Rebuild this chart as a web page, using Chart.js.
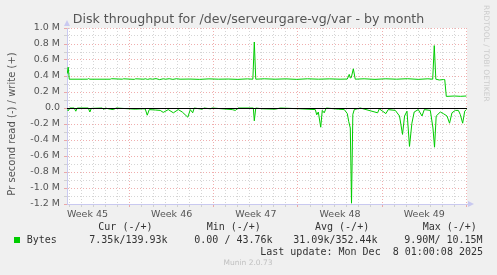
<!DOCTYPE html>
<html>
<head>
<meta charset="utf-8">
<script src="https://cdn.jsdelivr.net/npm/chart.js@4.4.1/dist/chart.umd.min.js"></script>
<style>
  html, body { margin: 0; padding: 0; background: #f0f0f0; }
  canvas { display: block; }
</style>
</head>
<body>
<canvas id="disk-chart" width="497" height="275"></canvas>
<script>
// x = days since monday of week 46, y = bytes per second
const weekLabels = ['Week 45', 'Week 46', 'Week 47', 'Week 48', 'Week 49'];
const weekCenters = [-3.5, 3.5, 10.5, 17.5, 24.5];

// write (+)
const writeDays = [-5.18, -5.10, -5.01, -3.5, -3.4, -3.3, -1.6, -1.5, -0.6, -0.5, 0.4, 0.5,
  1.2, 1.3, 1.5, 1.7, 1.9, 2.2, 2.5, 2.8, 3.0, 3.3, 3.6, 3.9, 4.2, 5.0, 5.8, 6.6, 7.4, 8.2,
  9.0, 9.8, 10.25, 10.37, 10.49, 11.2, 12.1, 13.0, 13.9, 14.8, 15.7, 16.6, 17.5, 18.1, 18.26,
  18.35, 18.43, 18.6, 18.76, 19.5, 20.4, 21.3, 22.2, 23.1, 24.0, 24.8, 25.2, 25.33, 25.46,
  25.75, 26.1, 26.2, 26.33, 27.0, 27.5, 28.0];
const writeBytes = [430000, 510000, 360000, 360000, 368000, 360000, 360000, 366000, 360000, 365000, 358000, 365000,
  360000, 366000, 358000, 365000, 360000, 367000, 355000, 365000, 360000, 366000, 358000, 366000, 360000, 362000, 358000, 364000, 360000, 362000,
  358000, 364000, 360000, 825000, 360000, 365000, 360000, 364000, 358000, 365000, 360000, 364000, 360000, 362000, 420000,
  375000, 380000, 490000, 360000, 365000, 358000, 365000, 360000, 366000, 358000, 365000, 360000, 780000, 360000,
  350000, 356000, 355000, 145000, 150000, 146000, 150000];

// read (-), stored as magnitudes
const readDays = [-5.18, -5.10, -4.97, -4.60, -4.47, -4.35, -3.43, -3.30, -3.18, -2.27, -2.14, -2.02,
  -1.60, -1.35, -1.11, 0.47, 1.05, 1.30, 1.47, 1.64, 2.14, 2.55, 2.80, 3.22, 3.64, 4.05, 4.38,
  4.84, 5.05, 5.25, 5.37, 6.04, 6.20, 6.71, 6.88, 8.54, 8.79, 9.04, 10.29, 10.37, 10.49, 11.03,
  12.11, 12.53, 14.19, 15.44, 15.56, 15.69, 15.89, 16.02, 16.18, 16.35, 17.35, 17.85, 18.10,
  18.22, 18.35, 18.45, 18.56, 18.68, 19.18, 20.62, 20.76, 21.31, 21.50, 22.09, 22.44, 22.69,
  22.86, 23.06, 23.27, 23.47, 23.66, 24.00, 24.31, 24.50, 25.00, 25.22, 25.35, 25.49, 25.83,
  26.08, 26.39, 26.60, 26.80, 27.08, 27.33, 27.49, 27.69, 27.86, 27.99];
const readBytes = [20000, 35000, 0, 0, 40000, 0, 0, 50000, 5000, 0, 20000, 0,
  15000, 20000, 0, 15000, 10000, 10000, 90000, 20000, 25000, 30000, 55000, 20000, 60000, 20000, 50000,
  115000, 20000, 60000, 0, 15000, 0, 10000, 0, 20000, 30000, 0, 0, 160000, 0, 10000,
  15000, 0, 10000, 20000, 85000, 50000, 240000, 30000, 60000, 0, 15000, 20000, 70000,
  170000, 250000, 1190000, 80000, 20000, 0, 60000, 10000, 70000, 20000, 30000, 100000, 330000,
  100000, 40000, 480000, 190000, 50000, 20000, 100000, 20000, 30000, 250000, 490000, 100000, 50000,
  70000, 100000, 190000, 60000, 30000, 30000, 80000, 190000, 40000, 20000];

const X_MIN = -5.2, X_MAX = 28.05;
const GREEN = '#00cc00';
const MAJOR = 'rgba(230, 120, 120, 0.6)';
const MINOR = 'rgba(190, 190, 190, 0.65)';
const AXIS = '#c9c9f0';

const munin = {
  id: 'munin',
  beforeDraw(chart) {
    const { ctx, chartArea: a } = chart;
    ctx.save();
    ctx.fillStyle = '#f0f0f0';
    ctx.fillRect(0, 0, chart.width, chart.height);
    ctx.fillStyle = '#ffffff';
    ctx.fillRect(a.left, a.top, a.right - a.left, a.bottom - a.top);
    ctx.restore();
  },
  afterDatasetsDraw(chart) {
    // black zero rule, snapped to a pixel row
    const { ctx, chartArea: a } = chart;
    const y0 = Math.floor(chart.scales.y.getPixelForValue(0)) + 0.5;
    ctx.save();
    ctx.strokeStyle = '#000';
    ctx.lineWidth = 1;
    ctx.beginPath();
    ctx.moveTo(a.left, y0);
    ctx.lineTo(a.right, y0);
    ctx.stroke();
    ctx.restore();
  },
  afterDraw(chart) {
    const { ctx, chartArea: a } = chart;
    ctx.save();
    // axis arrows
    ctx.fillStyle = AXIS;
    ctx.beginPath();
    ctx.moveTo(a.left - 3, a.top - 2); ctx.lineTo(a.left + 3, a.top - 2); ctx.lineTo(a.left, a.top - 8);
    ctx.fill();
    ctx.beginPath();
    ctx.moveTo(a.right + 1, a.bottom - 3); ctx.lineTo(a.right + 1, a.bottom + 3); ctx.lineTo(a.right + 7, a.bottom);
    ctx.fill();

    // title
    ctx.fillStyle = '#555';
    ctx.font = '12.6px "DejaVu Sans"';
    ctx.textAlign = 'center';
    ctx.textBaseline = 'middle';
    ctx.fillText('Disk throughput for /dev/serveurgare-vg/var - by month', 248.5, 19.5);

    // vertical label
    ctx.save();
    ctx.translate(12, 124);
    ctx.rotate(-Math.PI / 2);
    ctx.font = '10px "DejaVu Sans"';
    ctx.fillText('Pr second read (-) / write (+)', 0, 0);
    ctx.restore();

    // rrdtool credit
    ctx.save();
    ctx.translate(485.5, 5);
    ctx.rotate(Math.PI / 2);
    ctx.textAlign = 'left';
    ctx.fillStyle = '#cccccc';
    ctx.font = '7.5px "DejaVu Sans"';
    ctx.fillText('RRDTOOL / TOBI OETIKER', 0, 0);
    ctx.restore();

    // legend
    ctx.font = '10px "DejaVu Sans Mono"';
    ctx.fillStyle = '#333';
    ctx.textAlign = 'left';
    ctx.fillText('Cur (-/+)', 98.3, 227.5);
    ctx.fillText('Min (-/+)', 206.7, 227.5);
    ctx.fillText('Avg (-/+)', 315, 227.5);
    ctx.fillText('Max (-/+)', 422.7, 227.5);
    ctx.fillText('Bytes', 26.7, 240);
    ctx.fillText('7.35k/139.93k', 89.3, 240);
    ctx.fillText('0.00 / 43.76k', 194.3, 240);
    ctx.fillText('31.09k/352.44k', 293.3, 240);
    ctx.fillText('9.90M/ 10.15M', 404.3, 240);
    ctx.textAlign = 'right';
    ctx.fillText('Last update: Mon Dec  8 01:00:08 2025', 483, 252);
    ctx.fillStyle = GREEN;
    ctx.fillRect(14, 237, 6, 6);

    ctx.textAlign = 'center';
    ctx.fillStyle = '#c0c0c0';
    ctx.font = '7.5px "DejaVu Sans"';
    ctx.fillText('Munin 2.0.73', 248, 263.5);
    ctx.restore();
  }
};

new Chart(document.getElementById('disk-chart'), {
  type: 'line',
  data: {
    datasets: [
      {
        label: 'Bytes write',
        data: writeDays.map((d, i) => ({ x: d, y: writeBytes[i] })),
        borderColor: GREEN,
        borderWidth: 1
      },
      {
        label: 'Bytes read',
        data: readDays.map((d, i) => ({ x: d, y: -readBytes[i] })),
        borderColor: GREEN,
        borderWidth: 1
      }
    ]
  },
  options: {
    responsive: false,
    devicePixelRatio: 1,
    animation: false,
    events: [],
    elements: { point: { radius: 0 }, line: { tension: 0, fill: false } },
    layout: { padding: { left: 0, top: 28, right: 30, bottom: 51 } },
    plugins: { legend: { display: false }, title: { display: false }, tooltip: { enabled: false } },
    scales: {
      x: {
        type: 'linear',
        min: X_MIN,
        max: X_MAX,
        afterBuildTicks(scale) {
          const t = [];
          for (let d = -5; d <= 28; d++) t.push(d);
          weekCenters.forEach(c => t.push(c));
          t.sort((p, q) => p - q);
          scale.ticks = t.map(v => ({ value: v }));
        },
        afterFit(scale) { scale.height = 20; },
        grid: {
          color: c => {
            const v = c.tick ? c.tick.value : 0;
            if (!Number.isInteger(v)) return 'transparent';
            return v % 7 === 0 ? MAJOR : MINOR;
          },
          tickLength: 3
        },
        border: { color: AXIS, dash: [1, 2] },
        ticks: {
          autoSkip: false,
          maxRotation: 0,
          padding: 2,
          color: '#555',
          font: { family: 'DejaVu Sans', size: 9.5 },
          callback: v => {
            const i = weekCenters.indexOf(v);
            return i >= 0 ? weekLabels[i] : '';
          }
        }
      },
      y: {
        min: -1200000,
        max: 1000000,
        afterBuildTicks(scale) {
          const t = [];
          for (let k = -12; k <= 10; k++) t.push({ value: k * 100000 });
          scale.ticks = t;
        },
        afterFit(scale) { scale.width = 67; },
        grid: {
          color: c => (c.tick && c.tick.value % 200000 === 0) ? MAJOR : MINOR,
          tickLength: 3
        },
        border: { color: AXIS, dash: [1, 2] },
        ticks: {
          autoSkip: false,
          padding: 4,
          color: '#555',
          font: { family: 'DejaVu Sans', size: 9.5 },
          callback: v => {
            if (v % 200000 !== 0) return '';
            if (v === 0) return '0.0';
            return (v / 1e6).toFixed(1) + ' M';
          }
        }
      }
    }
  },
  plugins: [munin]
});
</script>
</body>
</html>
